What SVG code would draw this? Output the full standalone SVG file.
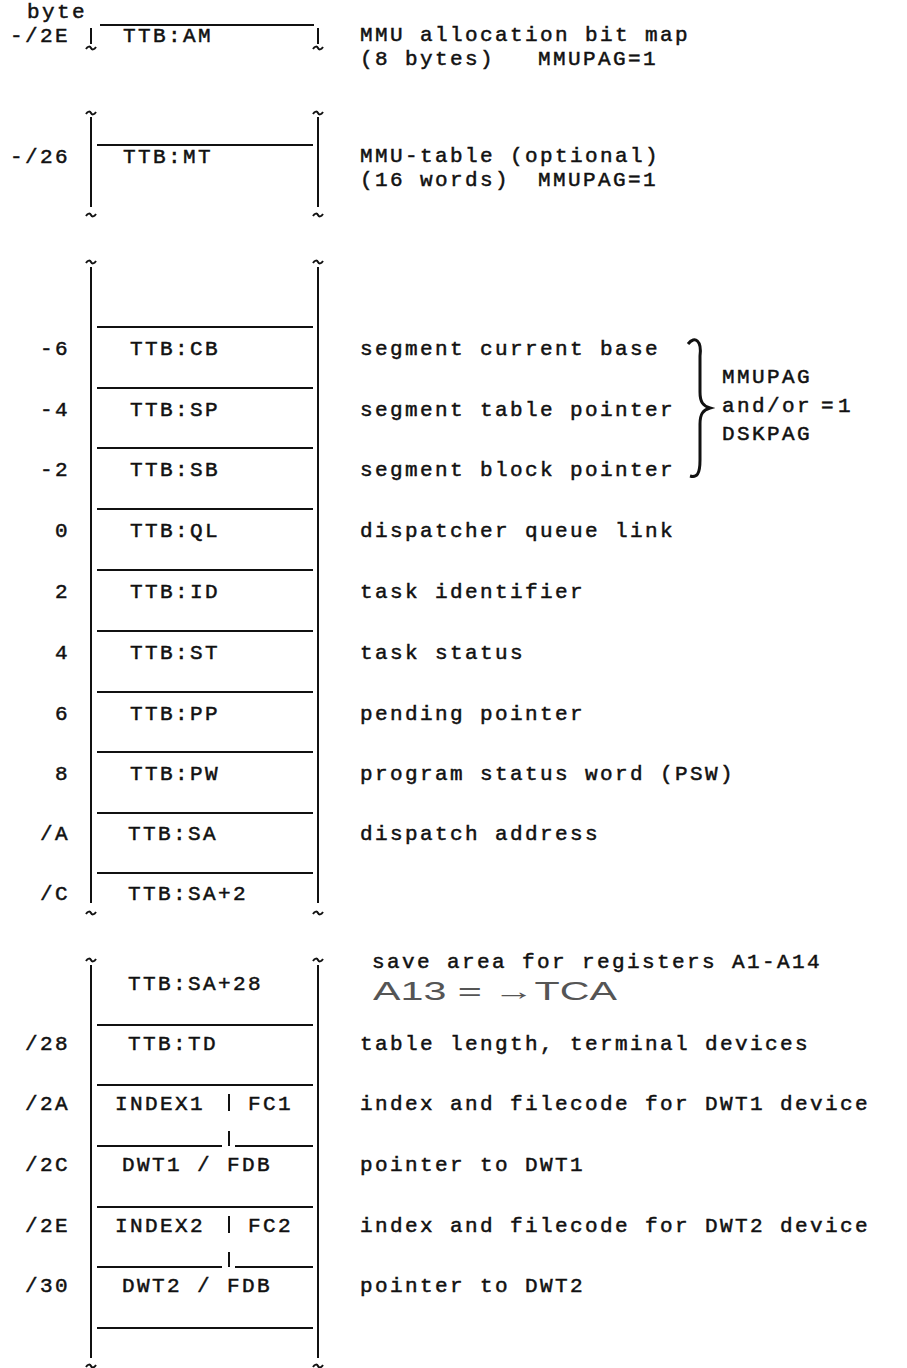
<svg xmlns="http://www.w3.org/2000/svg" xmlns:xlink="http://www.w3.org/1999/xlink" width="907" height="1368" viewBox="0 0 907 1368">
<style>
.t{font-family:"Liberation Mono",monospace;font-size:21px;letter-spacing:2.4px;fill:#111;stroke:#111;stroke-width:0.5}
.r{text-anchor:end}
.ln{stroke:#111;stroke-width:2;fill:none}
.hw{font-family:"Liberation Sans",sans-serif;font-size:25px;fill:#555}
</style>
<defs>
<path id="tl" d="M-5,1 C-3,-2 -1,-2 0,0 C1,2 3,2 5,-1" stroke="#111" stroke-width="2" fill="none"/>
</defs>
<rect width="907" height="1368" fill="#fff"/>
<text class="t" x="27" y="18">byte</text>

<g id="frame">
<path class="ln" d="M91,28 V44 M318,28 V44"/>
<use xlink:href="#tl" x="91" y="48"/><use xlink:href="#tl" x="318" y="48"/>
<use xlink:href="#tl" x="91" y="113"/><use xlink:href="#tl" x="318" y="113"/>
<path class="ln" d="M91,117 V207 M318,117 V207"/>
<use xlink:href="#tl" x="91" y="215"/><use xlink:href="#tl" x="318" y="215"/>
<use xlink:href="#tl" x="91" y="262"/><use xlink:href="#tl" x="318" y="262"/>
<path class="ln" d="M91,267 V903 M318,267 V903"/>
<use xlink:href="#tl" x="91" y="913"/><use xlink:href="#tl" x="318" y="913"/>
<use xlink:href="#tl" x="91" y="960"/><use xlink:href="#tl" x="318" y="960"/>
<path class="ln" d="M91,965 V1358 M318,965 V1358"/>
<use xlink:href="#tl" x="91" y="1366"/><use xlink:href="#tl" x="318" y="1366"/>
</g>

<g id="row-AM">
<path class="ln" d="M100,25 H314"/>
<text class="t r" x="70" y="42">-/2E</text>
<text class="t" x="123" y="42">TTB:AM</text>
<text class="t" x="360" y="41">MMU allocation bit map</text>
<text class="t" x="360" y="65">(8 bytes)<tspan x="538">MMUPAG=1</tspan></text>
</g>
<g id="row-MT">
<path class="ln" d="M97,145 H313"/>
<text class="t r" x="70" y="163">-/26</text>
<text class="t" x="123" y="163">TTB:MT</text>
<text class="t" x="360" y="162">MMU-table (optional)</text>
<text class="t" x="360" y="186">(16 words)<tspan x="538">MMUPAG=1</tspan></text>
</g>
<g id="row-CB">
<path class="ln" d="M97,327 H313"/>
<text class="t r" x="70" y="355">-6</text>
<text class="t" x="130" y="355">TTB:CB</text>
<text class="t" x="360" y="355">segment current base</text>
</g>
<g id="row-SP">
<path class="ln" d="M97,388 H313"/>
<text class="t r" x="70" y="416">-4</text>
<text class="t" x="130" y="416">TTB:SP</text>
<text class="t" x="360" y="416">segment table pointer</text>
</g>
<g id="row-SB">
<path class="ln" d="M97,448 H313"/>
<text class="t r" x="70" y="476">-2</text>
<text class="t" x="130" y="476">TTB:SB</text>
<text class="t" x="360" y="476">segment block pointer</text>
</g>
<g id="row-QL">
<path class="ln" d="M97,509 H313"/>
<text class="t r" x="70" y="537">0</text>
<text class="t" x="130" y="537">TTB:QL</text>
<text class="t" x="360" y="537">dispatcher queue link</text>
</g>
<g id="row-ID">
<path class="ln" d="M97,570 H313"/>
<text class="t r" x="70" y="598">2</text>
<text class="t" x="130" y="598">TTB:ID</text>
<text class="t" x="360" y="598">task identifier</text>
</g>
<g id="row-ST">
<path class="ln" d="M97,631 H313"/>
<text class="t r" x="70" y="659">4</text>
<text class="t" x="130" y="659">TTB:ST</text>
<text class="t" x="360" y="659">task status</text>
</g>
<g id="row-PP">
<path class="ln" d="M97,692 H313"/>
<text class="t r" x="70" y="720">6</text>
<text class="t" x="130" y="720">TTB:PP</text>
<text class="t" x="360" y="720">pending pointer</text>
</g>
<g id="row-PW">
<path class="ln" d="M97,752 H313"/>
<text class="t r" x="70" y="780">8</text>
<text class="t" x="130" y="780">TTB:PW</text>
<text class="t" x="360" y="780">program status word (PSW)</text>
</g>
<g id="row-SA">
<path class="ln" d="M97,813 H313"/>
<text class="t r" x="70" y="840">/A</text>
<text class="t" x="128" y="840">TTB:SA</text>
<text class="t" x="360" y="840">dispatch address</text>
</g>
<g id="row-SA2">
<path class="ln" d="M97,873 H313"/>
<text class="t r" x="70" y="900">/C</text>
<text class="t" x="128" y="900">TTB:SA+2</text>
</g>
<g id="row-SA28">
<text class="t" x="128" y="990">TTB:SA+28</text>
<text class="t" x="372" y="968">save area for registers A1-A14</text>
<text class="hw" x="373" y="1000" textLength="244" lengthAdjust="spacingAndGlyphs">A13 = →TCA</text>
</g>
<g id="row-TD">
<path class="ln" d="M97,1025 H313"/>
<text class="t r" x="70" y="1050">/28</text>
<text class="t" x="128" y="1050">TTB:TD</text>
<text class="t" x="360" y="1050">table length, terminal devices</text>
</g>
<g id="row-2A">
<path class="ln" d="M97,1085 H313"/>
<text class="t r" x="70" y="1110">/2A</text>
<text class="t" x="115" y="1110">INDEX1</text>
<path class="ln" d="M229,1094 V1111 M229,1131 V1146"/>
<text class="t" x="248" y="1110">FC1</text>
<text class="t" x="360" y="1110">index and filecode for DWT1 device</text>
</g>
<g id="row-2C">
<path class="ln" d="M97,1146 H222 M235,1146 H313"/>
<text class="t r" x="70" y="1171">/2C</text>
<text class="t" x="122" y="1171">DWT1 / FDB</text>
<text class="t" x="360" y="1171">pointer to DWT1</text>
</g>
<g id="row-2E">
<path class="ln" d="M97,1207 H313"/>
<text class="t r" x="70" y="1232">/2E</text>
<text class="t" x="115" y="1232">INDEX2</text>
<path class="ln" d="M229,1216 V1233 M229,1252 V1267"/>
<text class="t" x="248" y="1232">FC2</text>
<text class="t" x="360" y="1232">index and filecode for DWT2 device</text>
</g>
<g id="row-30">
<path class="ln" d="M97,1267 H222 M235,1267 H313"/>
<text class="t r" x="70" y="1292">/30</text>
<text class="t" x="122" y="1292">DWT2 / FDB</text>
<text class="t" x="360" y="1292">pointer to DWT2</text>
</g>
<g id="row-end">
<path class="ln" d="M97,1328 H313"/>
</g>

<g id="connectors">
<path d="M688,344 C695,335 702,341 700,356 L700,392 C700,402 703,406 710,408 C703,410 700,414 700,424 L700,460 C700,474 697,478 690,476" stroke="#111" stroke-width="3" fill="none"/>
</g>
<g id="brace-label">
<text class="t" x="722" y="383">MMUPAG</text>
<text class="t" x="722" y="412">and/or</text>
<text class="t" x="722" y="440">DSKPAG</text>
<text class="t" x="821" y="412">=<tspan x="838">1</tspan></text>
</g>
</svg>
